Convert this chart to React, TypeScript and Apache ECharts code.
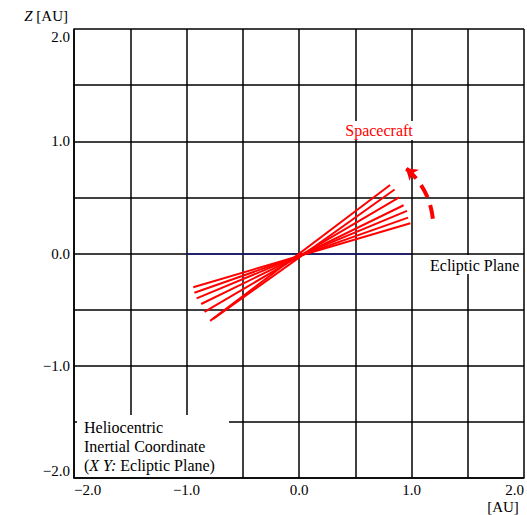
import React, { useEffect, useRef } from "react";
import * as echarts from "echarts";

// Axis ranges / ticks (AU)
const xRange = [-2, 2];
const zRange = [-2, 2];
const gridStep = 0.5;

// Spacecraft orbit-plane lines: upper (right) and lower (left) endpoints [X, Z]
const spacecraftUpper: number[][] = [
  [0.81, 0.61],
  [0.85, 0.57],
  [0.89, 0.5],
  [0.93, 0.43],
  [0.96, 0.38],
  [0.97, 0.32],
  [0.99, 0.27],
];
const spacecraftLower: number[][] = [
  [-0.79, -0.6],
  [-0.76, -0.58],
  [-0.84, -0.52],
  [-0.87, -0.45],
  [-0.91, -0.4],
  [-0.93, -0.35],
  [-0.94, -0.3],
];

// Motion arrow: start and tip [X, Z]
const motionArrow: number[][] = [
  [1.19, 0.31],
  [0.95, 0.76],
];

// Ecliptic plane segment [X, Z]
const eclipticPlane: number[][] = [
  [-1.0, 0.0],
  [1.0, 0.0],
];

const FONT = "Liberation Serif";

const fmt = (v: number) =>
  Number.isInteger(v) ? (v < 0 ? "\u2212" : "") + Math.abs(v).toFixed(1) : "";

const txt = (
  text: string,
  x: number,
  y: number,
  fill: string,
  align: string,
  size = 16,
  rich?: any
) => ({
  type: "text",
  z: 101,
  x,
  y,
  style: {
    text,
    fill,
    fontFamily: FONT,
    fontSize: size,
    align,
    verticalAlign: "middle",
    ...(rich ? { rich } : {}),
  },
});

export default function App() {
  const ref = useRef<HTMLDivElement>(null);
  useEffect(() => {
    if (!ref.current) return;
    const chart = echarts.init(ref.current, undefined, { renderer: "svg" });
    const option: any = {
      animation: false,
      backgroundColor: "#ffffff",
      grid: { left: 74, top: 29, right: 1, bottom: 37, containLabel: false },
      xAxis: {
        type: "value",
        min: xRange[0],
        max: xRange[1],
        interval: gridStep,
        axisLine: { show: true, onZero: false, lineStyle: { color: "#000", width: 1.5 } },
        axisTick: { show: false },
        splitLine: { show: true, lineStyle: { color: "#000", width: 1.5 } },
        axisLabel: {
          formatter: fmt,
          color: "#000",
          fontFamily: FONT,
          fontSize: 15,
          margin: 4,
          alignMinLabel: "left",
          alignMaxLabel: "right",
        },
      },
      yAxis: {
        type: "value",
        min: zRange[0],
        max: zRange[1],
        interval: gridStep,
        name: "{it|Z} [AU]",
        nameLocation: "end",
        nameGap: 6,
        nameTextStyle: {
          align: "right",
          verticalAlign: "bottom",
          padding: [0, 6, 0, 0],
          color: "#000",
          fontFamily: FONT,
          fontSize: 15,
          rich: {
            it: { fontStyle: "italic", fontFamily: FONT, fontSize: 15, color: "#000" },
          },
        },
        axisLine: { show: true, onZero: false, lineStyle: { color: "#000", width: 1.5 } },
        axisTick: { show: false },
        splitLine: { show: true, lineStyle: { color: "#000", width: 1.5 } },
        axisLabel: {
          formatter: fmt,
          color: "#000",
          fontFamily: FONT,
          fontSize: 15,
          margin: 4,
          verticalAlignMinLabel: "bottom",
          verticalAlignMaxLabel: "top",
        },
      },
      series: [
        {
          type: "lines",
          coordinateSystem: "cartesian2d",
          silent: true,
          z: 3,
          lineStyle: { color: "#1a1a7a", width: 1.5, opacity: 1 },
          data: [{ coords: eclipticPlane }],
        },
        {
          type: "lines",
          coordinateSystem: "cartesian2d",
          silent: true,
          z: 4,
          lineStyle: { color: "#ff0000", width: 2, opacity: 1 },
          data: spacecraftUpper.map((u, i) => ({ coords: [u, spacecraftLower[i]] })),
        },
        {
          type: "lines",
          coordinateSystem: "cartesian2d",
          silent: true,
          z: 5,
          symbol: ["none", "arrow"],
          symbolSize: 11,
          lineStyle: {
            color: "#ff0000",
            width: 4,
            opacity: 1,
            type: [14, 8],
            curveness: -0.2,
          },
          data: [{ coords: motionArrow }],
        },
      ],
      graphic: [
        {
          type: "rect",
          z: 100,
          shape: { x: 340, y: 121, width: 78, height: 19 },
          style: { fill: "#fff" },
        },
        txt("Spacecraft", 379, 130, "#ff0000", "center"),
        {
          type: "rect",
          z: 100,
          shape: { x: 425, y: 255, width: 97, height: 19 },
          style: { fill: "#fff" },
        },
        txt("Ecliptic Plane", 430, 265, "#000", "left"),
        {
          type: "rect",
          z: 100,
          shape: { x: 77, y: 415, width: 152, height: 62 },
          style: { fill: "#fff" },
        },
        txt("Heliocentric", 84, 427, "#000", "left"),
        txt("Inertial Coordinate", 84, 446, "#000", "left"),
        txt("({it|X Y:} Ecliptic Plane)", 84, 465, "#000", "left", 16, {
          it: { fontStyle: "italic", fontFamily: FONT, fontSize: 16, fill: "#000" },
        }),
        txt("[AU]", 503, 507, "#000", "center", 15),
      ],
    };
    chart.setOption(option);
    return () => chart.dispose();
  }, []);
  return (
    <div
      ref={ref}
      style={{ position: "fixed", left: 0, top: 0, width: 527, height: 515, background: "#fff" }}
    />
  );
}
